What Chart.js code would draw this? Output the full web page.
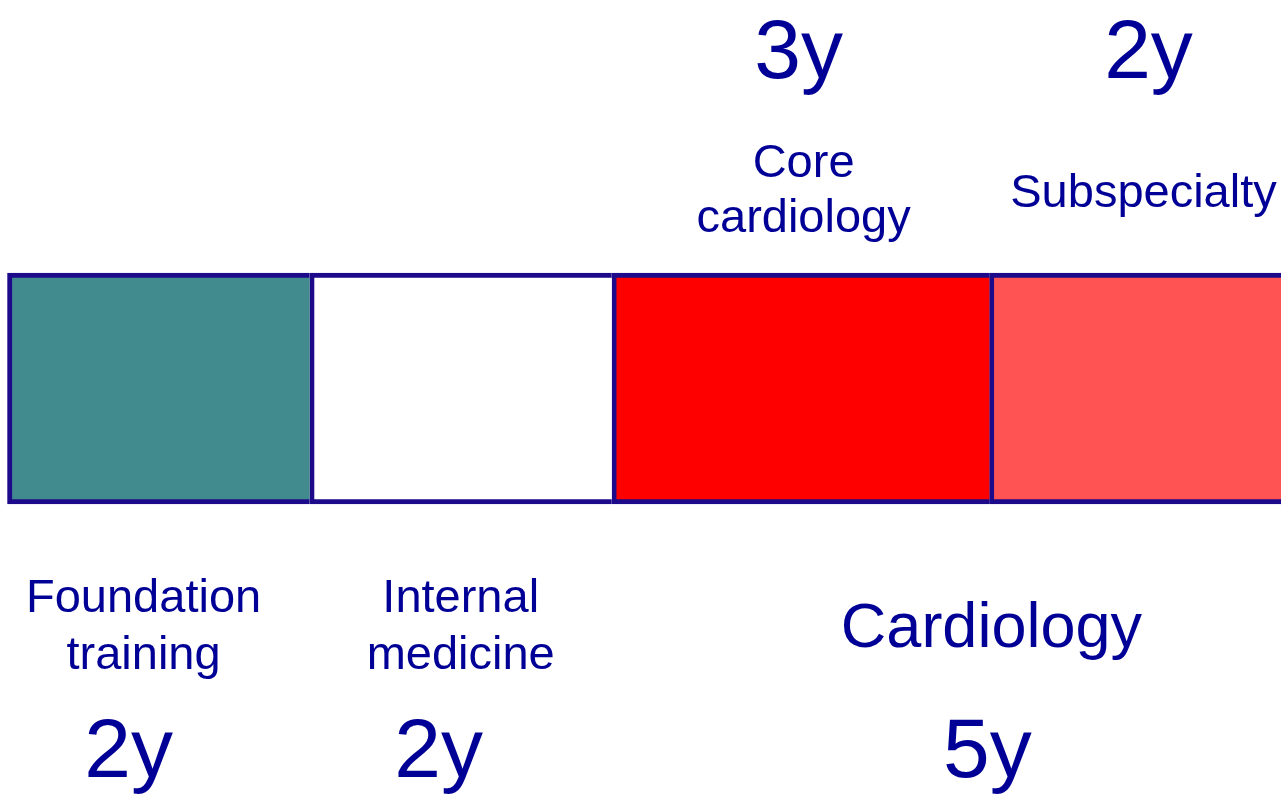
<!DOCTYPE html>
<html>
<head>
<meta charset="utf-8">
<title>Cardiology training pathway</title>
<script src="https://cdn.jsdelivr.net/npm/chart.js@4/dist/chart.umd.min.js"></script>
<style>
  html, body { margin: 0; padding: 0; background: #fff; }
  #wrap { width: 1281px; height: 795px; position: relative; }
</style>
</head>
<body>
<div id="wrap"><canvas id="pathwayChart"></canvas></div>
<script>
// --- Data ---
const stages = ['Foundation training', 'Internal medicine', 'Core cardiology', 'Subspecialty'];
const stageLines = [['Foundation', 'training'], ['Internal', 'medicine'], ['Core', 'cardiology'], ['Subspecialty']];
const segmentLengths = [2, 2, 2.5, 2];
const durationLabels = ['2y', '2y', '3y', '2y'];
const groupLabel = 'Cardiology';
const groupDuration = '5y';

const colors = ['#418b8e', '#ffffff', '#ff0000', '#ff5252'];
const borderColor = '#1c0a8a';
const textColor = '#000096';
const fontFamily = "'Liberation Sans', Arial, sans-serif";

// where each stage's text sits: above or below the bar, nudged in px
const textLayout = [
  { side: 'bottom', dxName: -15, dxYears: -30 },
  { side: 'bottom', dxName: 0, dxYears: -22 },
  { side: 'top', dxName: 3, dxYears: -2 },
  { side: 'top', dxName: 3, dxYears: 8 }
];

// --- Labels plugin ---
const pathwayLabels = {
  id: 'pathwayLabels',
  afterDraw(chart) {
    const ctx = chart.ctx;
    const x = chart.scales.x;
    ctx.save();
    ctx.fillStyle = textColor;
    ctx.textAlign = 'center';
    ctx.textBaseline = 'alphabetic';

    let start = 0;
    segmentLengths.forEach((len, i) => {
      const mid = x.getPixelForValue(start + len / 2);
      const lay = textLayout[i];
      const lines = stageLines[i];
      ctx.font = '47px ' + fontFamily;
      if (lay.side === 'top') {
        if (lines.length === 2) {
          ctx.fillText(lines[0], mid + lay.dxName, 177);
          ctx.fillText(lines[1], mid + lay.dxName, 232);
        } else {
          ctx.fillText(lines[0], mid + lay.dxName, 207);
        }
        ctx.font = '84px ' + fontFamily;
        ctx.fillText(durationLabels[i], mid + lay.dxYears, 78);
      } else {
        ctx.fillText(lines[0], mid + lay.dxName, 612);
        ctx.fillText(lines[1], mid + lay.dxName, 669);
        ctx.font = '84px ' + fontFamily;
        ctx.fillText(durationLabels[i], mid + lay.dxYears, 777);
      }
      start += len;
    });

    // group label under the last two stages, centred on their boundary
    const boundary = x.getPixelForValue(segmentLengths[0] + segmentLengths[1] + segmentLengths[2]);
    ctx.font = '63px ' + fontFamily;
    ctx.fillText(groupLabel, boundary + 2, 647);
    ctx.font = '84px ' + fontFamily;
    ctx.fillText(groupDuration, boundary - 2, 777);
    ctx.restore();
  }
};

const ctx = document.getElementById('pathwayChart').getContext('2d');
new Chart(ctx, {
  type: 'bar',
  data: {
    labels: ['Training'],
    datasets: stages.map((name, i) => ({
      label: name,
      data: [segmentLengths[i]],
      backgroundColor: colors[i],
      borderColor: borderColor,
      borderWidth: { top: 5, bottom: 5, left: 5, right: 0 },
      borderSkipped: false,
      barPercentage: 1,
      categoryPercentage: 1,
      clip: false
    }))
  },
  options: {
    indexAxis: 'y',
    responsive: true,
    maintainAspectRatio: false,
    animation: false,
    layout: { padding: { left: 7.5, right: 0, top: 273, bottom: 291 } },
    plugins: {
      legend: { display: false },
      tooltip: { enabled: false },
      title: { display: false }
    },
    scales: {
      x: { stacked: true, min: 0, max: 8.43, display: false },
      y: { stacked: true, display: false }
    }
  },
  plugins: [pathwayLabels]
});
</script>
</body>
</html>
